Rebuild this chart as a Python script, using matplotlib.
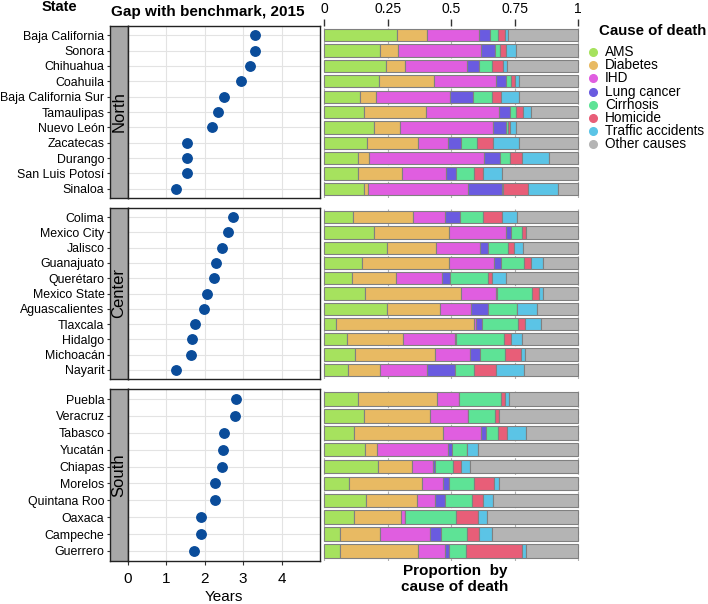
import numpy as np
import matplotlib
matplotlib.use("Agg")
import matplotlib.pyplot as plt

plt.rcParams['font.family'] = ['Liberation Sans', 'DejaVu Sans']

#==== data ====
causes = ["AMS", "Diabetes", "IHD", "Lung cancer", "Cirrhosis", "Homicide",
          "Traffic accidents", "Other causes"]
cause_colors = ["#a6e25e", "#e8ba63", "#e05ee0", "#6a5be0", "#5ee396",
                "#e85e78", "#5bc4e6", "#b4b4b4"]
regions = ["North", "Center", "South"]

north_states = ["Baja California", "Sonora", "Chihuahua", "Coahuila",
                "Baja California Sur", "Tamaulipas", "Nuevo León", "Zacatecas",
                "Durango", "San Luis Potosí", "Sinaloa"]
north_gap = [3.32, 3.31, 3.19, 2.95, 2.50, 2.35, 2.20, 1.54, 1.54, 1.53, 1.25]
# AMS, Diabetes, IHD, Lung, Cirrhosis, Homicide, Traffic (other = rest)
north_props = [
    [0.285, 0.118, 0.208, 0.043, 0.029, 0.031, 0.009],
    [0.218, 0.072, 0.327, 0.055, 0.022, 0.024, 0.039],
    [0.242, 0.075, 0.247, 0.046, 0.051, 0.043, 0.018],
    [0.217, 0.214, 0.246, 0.038, 0.022, 0.013, 0.018],
    [0.139, 0.063, 0.293, 0.090, 0.075, 0.035, 0.071],
    [0.157, 0.243, 0.290, 0.044, 0.020, 0.029, 0.031],
    [0.196, 0.102, 0.367, 0.052, 0.009, 0.007, 0.022],
    [0.170, 0.201, 0.118, 0.048, 0.065, 0.063, 0.102],
    [0.131, 0.044, 0.456, 0.061, 0.039, 0.048, 0.106],
    [0.131, 0.174, 0.176, 0.039, 0.072, 0.035, 0.073],
    [0.156, 0.016, 0.393, 0.137, 0.002, 0.098, 0.118],
]

center_states = ["Colima", "Mexico City", "Jalisco", "Guanajuato", "Querétaro",
                 "Mexico State", "Aguascalientes", "Tlaxcala", "Hidalgo",
                 "Michoacán", "Nayarit"]
center_gap = [2.74, 2.61, 2.46, 2.28, 2.23, 2.07, 1.97, 1.75, 1.66, 1.64, 1.24]
center_props = [
    [0.114, 0.235, 0.128, 0.058, 0.089, 0.076, 0.058],
    [0.197, 0.293, 0.225, 0.020, 0.043, 0.016, 0.001],
    [0.246, 0.193, 0.176, 0.031, 0.078, 0.024, 0.035],
    [0.149, 0.341, 0.180, 0.026, 0.092, 0.027, 0.047],
    [0.111, 0.170, 0.183, 0.031, 0.152, 0.016, 0.052],
    [0.161, 0.376, 0.140, 0.004, 0.137, 0.029, 0.014],
    [0.248, 0.207, 0.123, 0.069, 0.111, 0.003, 0.077],
    [0.046, 0.544, 0.009, 0.022, 0.142, 0.030, 0.063],
    [0.089, 0.221, 0.204, 0.004, 0.192, 0.027, 0.041],
    [0.122, 0.314, 0.137, 0.042, 0.097, 0.063, 0.016],
    [0.092, 0.127, 0.187, 0.108, 0.075, 0.086, 0.111],
]

south_states = ["Puebla", "Veracruz", "Tabasco", "Yucatán", "Chiapas",
                "Morelos", "Quintana Roo", "Oaxaca", "Campeche", "Guerrero"]
south_gap = [2.80, 2.79, 2.51, 2.48, 2.46, 2.27, 2.27, 1.91, 1.90, 1.73]
south_props = [
    [0.133, 0.311, 0.086, 0.000, 0.165, 0.016, 0.018],
    [0.156, 0.261, 0.148, 0.002, 0.105, 0.017, 0.000],
    [0.116, 0.353, 0.150, 0.017, 0.050, 0.033, 0.078],
    [0.162, 0.044, 0.281, 0.017, 0.059, 0.001, 0.041],
    [0.210, 0.135, 0.085, 0.008, 0.071, 0.030, 0.034],
    [0.099, 0.285, 0.085, 0.021, 0.099, 0.080, 0.020],
    [0.166, 0.200, 0.069, 0.042, 0.106, 0.041, 0.041],
    [0.118, 0.186, 0.013, 0.000, 0.201, 0.089, 0.035],
    [0.063, 0.158, 0.195, 0.043, 0.103, 0.046, 0.055],
    [0.063, 0.306, 0.107, 0.016, 0.068, 0.220, 0.017],
]

region_states = [north_states, center_states, south_states]
region_gap = [north_gap, center_gap, south_gap]
region_props = [north_props, center_props, south_props]

#==== layout (pixels) ====
W, H = 708, 604
fig = plt.figure(figsize=(W / 100, H / 100), dpi=100)

def box(x0, y0, x1, y1):
    return [x0 / W, 1 - y1 / H, (x1 - x0) / W, (y1 - y0) / H]

panel_y = [(26, 198), (208, 379), (389, 561)]
dot_col = "#0a4c9a"
grid_col = "#e3e3e3"

for r in range(3):
    states = region_states[r]
    gap = region_gap[r]
    props = np.array(region_props[r])
    other = 1 - props.sum(axis=1)
    props = np.column_stack([props, other])
    n = len(states)
    ypos = np.arange(n)
    y0, y1 = panel_y[r]

    # strip with state labels
    sax = fig.add_axes(box(110, y0, 128, y1))
    sax.set_facecolor("#a8a8a8")
    sax.set_xlim(0, 1)
    sax.set_ylim(n - 1 + 0.6, -0.6)
    sax.set_xticks([])
    sax.set_yticks(ypos)
    sax.set_yticklabels(states, fontsize=8.9)
    sax.tick_params(axis='y', length=2.5, width=0.8, pad=1.5, color="#333333")
    sax.text(0.5, 0.5, regions[r], rotation=90, ha='center', va='center',
             fontsize=12, transform=sax.transAxes)
    for s in sax.spines.values():
        s.set_linewidth(1.0)
        s.set_color("#222222")

    # dot panel
    ax = fig.add_axes(box(128, y0, 320, y1))
    ax.set_xlim(0, 5)
    ax.set_ylim(n - 1 + 0.6, -0.6)
    ax.set_xticks([0, 1, 2, 3, 4])
    ax.set_yticks(ypos)
    ax.grid(True, color=grid_col, linewidth=0.8)
    ax.set_axisbelow(True)
    ax.tick_params(axis='y', length=0, labelleft=False)
    ax.plot(gap, ypos, 'o', color=dot_col, markersize=6.8, linestyle='none')
    for s in ax.spines.values():
        s.set_linewidth(1.0)
        s.set_color("#222222")
    if r == 2:
        ax.tick_params(axis='x', length=3, width=0.8, labelsize=11, pad=5,
                       color="#333333")
        ax.set_xlabel("Years", fontsize=11, labelpad=3)
    else:
        ax.tick_params(axis='x', length=0, labelbottom=False)

    # stacked bars
    bax = fig.add_axes(box(323, y0, 580, y1))
    bax.set_xlim(-0.005, 1.008)
    bax.set_ylim(n - 1 + 0.6, -0.6)
    left = np.zeros(n)
    for k in range(len(causes)):
        bax.barh(ypos, props[:, k], left=left, height=0.8,
                 color=cause_colors[k], edgecolor="#808080", linewidth=0.8,
                 zorder=2)
        left = left + props[:, k]
    bax.set_xticks([0, 0.25, 0.5, 0.75, 1])
    bax.grid(True, axis='x', color="#b0b0b0", linestyle=(0, (3, 3)),
             linewidth=0.8, zorder=0)
    bax.set_yticks([])
    for s in bax.spines.values():
        s.set_visible(False)
    if r == 0:
        bax.xaxis.tick_top()
        bax.set_xticklabels(["0", "0.25", "0.5", "0.75", "1"])
        bax.tick_params(axis='x', length=5, width=1, labelsize=10, pad=2,
                        color="#333333")
    else:
        bax.tick_params(axis='x', length=0, labelbottom=False)

# headers
fig.text(59 / W, 1 - 7 / H, "State", fontsize=10.5, fontweight='bold',
         ha='center', va='center')
fig.text(208 / W, 1 - 12 / H, "Gap with benchmark, 2015", fontsize=11,
         fontweight='bold', ha='center', va='center')
fig.text(455 / W, 1 - 579 / H, "Proportion  by\ncause of death", fontsize=11,
         fontweight='bold', ha='center', va='center', linespacing=1.15)

# legend
lax = fig.add_axes([0, 0, 1, 1])
lax.set_xlim(0, W)
lax.set_ylim(H, 0)
lax.axis('off')
lax.text(599, 31, "Cause of death", fontsize=10.8, fontweight='bold',
         ha='left', va='center')
for k in range(len(causes)):
    yy = 52 + k * 13.2
    lax.plot([593], [yy], 'o', color=cause_colors[k], markersize=5.5)
    lax.text(605, yy, causes[k], fontsize=9.8, ha='left', va='center')

fig.savefig("out.png", dpi=100)
